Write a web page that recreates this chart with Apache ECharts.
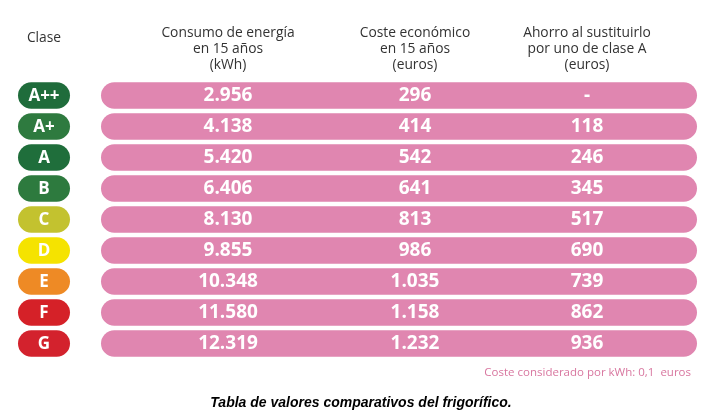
<!DOCTYPE html>
<html>
<head>
<meta charset="utf-8">
<script src="https://cdn.jsdelivr.net/npm/echarts@6/dist/echarts.min.js"></script>
<style>html,body{margin:0;padding:0;background:#fff}#c{width:710px;height:420px}</style>
</head>
<body>
<div id="c"></div>
<script>
// ---- data ----
var classes = ['A++', 'A+', 'A', 'B', 'C', 'D', 'E', 'F', 'G'];
var consumo = ['2.956', '4.138', '5.420', '6.406', '8.130', '9.855', '10.348', '11.580', '12.319'];
var coste = ['296', '414', '542', '641', '813', '986', '1.035', '1.158', '1.232'];
var ahorro = ['-', '118', '246', '345', '517', '690', '739', '862', '936'];
var headers = [
  'Clase',
  'Consumo de energía\nen 15 años\n(kWh)',
  'Coste económico\nen 15 años\n(euros)',
  'Ahorro al sustituirlo\npor uno de clase A\n(euros)'
];
var footnote = 'Coste considerado por kWh: 0,1  euros';
var caption = 'Tabla de valores comparativos del frigorífico.';

// ---- styles ----
var classColors = {
  'A++': '#1f6c3b', 'A+': '#2e7a3f', 'A': '#1f6e3b', 'B': '#2d7a3e',
  'C': '#c3c22f', 'D': '#f5e300', 'E': '#ee8a25', 'F': '#d52128', 'G': '#d3222d'
};
var pink = '#e086b0';
var FONT = '"Open Sans", "Noto Sans", sans-serif';
// x-axis runs in page units so columns line up with the header
var pillX = [18, 70];
var barX = [101, 697];
var colX = [228, 415, 587];
var headerX = [44, 228, 415, 587];

var chart = echarts.init(document.getElementById('c'));

var rows = classes.map(function (c, i) { return [i, c, consumo[i], coste[i], ahorro[i]]; });

chart.setOption({
  animation: false,
  backgroundColor: '#fff',
  grid: { left: 0, right: 0, top: 80, height: 279 },
  xAxis: { type: 'value', min: 0, max: 710, show: false },
  yAxis: { type: 'category', data: classes, inverse: true, show: false },
  series: [{
    type: 'custom',
    data: rows,
    encode: { y: 0 },
    renderItem: function (params, api) {
      var idx = api.value(0);
      var cls = classes[idx];
      var h = 26.5;
      var cy = api.coord([0, idx])[1];
      var p0 = api.coord([pillX[0], idx])[0], p1 = api.coord([pillX[1], idx])[0];
      var b0 = api.coord([barX[0], idx])[0], b1 = api.coord([barX[1], idx])[0];
      var children = [
        { type: 'rect', shape: { x: b0, y: cy - h / 2, width: b1 - b0, height: h, r: h / 2 }, style: { fill: pink } },
        { type: 'rect', shape: { x: p0, y: cy - h / 2, width: p1 - p0, height: h, r: h / 2 }, style: { fill: classColors[cls] } },
        { type: 'text', style: { text: cls, x: (p0 + p1) / 2, y: cy + 0.5, align: 'center', verticalAlign: 'middle', fill: '#fff', font: 'bold 17px ' + FONT } }
      ];
      var vals = [consumo[idx], coste[idx], ahorro[idx]];
      for (var k = 0; k < 3; k++) {
        var x = api.coord([colX[k], idx])[0];
        children.push({ type: 'text', style: { text: vals[k], x: x, y: cy + 0.5, align: 'center', verticalAlign: 'middle', fill: '#fff', font: 'bold 19px ' + FONT } });
      }
      return { type: 'group', children: children };
    }
  }],
  graphic: headers.map(function (t, i) {
    return {
      type: 'text', x: headerX[i], y: i === 0 ? 30 : 25,
      style: { text: t, fill: '#333', font: '13.8px ' + FONT, lineHeight: 16, align: 'center', textAlign: 'center' }
    };
  }).concat([
    { type: 'text', x: 691, y: 367, style: { text: footnote, fill: '#d8769f', font: '11.5px ' + FONT, align: 'right', textAlign: 'right' } },
    { type: 'text', x: 361, y: 396, style: { text: caption, fill: '#000', font: 'italic bold 14px "Liberation Sans", Arial, sans-serif', align: 'center', textAlign: 'center' } }
  ])
});
</script>
</body>
</html>
